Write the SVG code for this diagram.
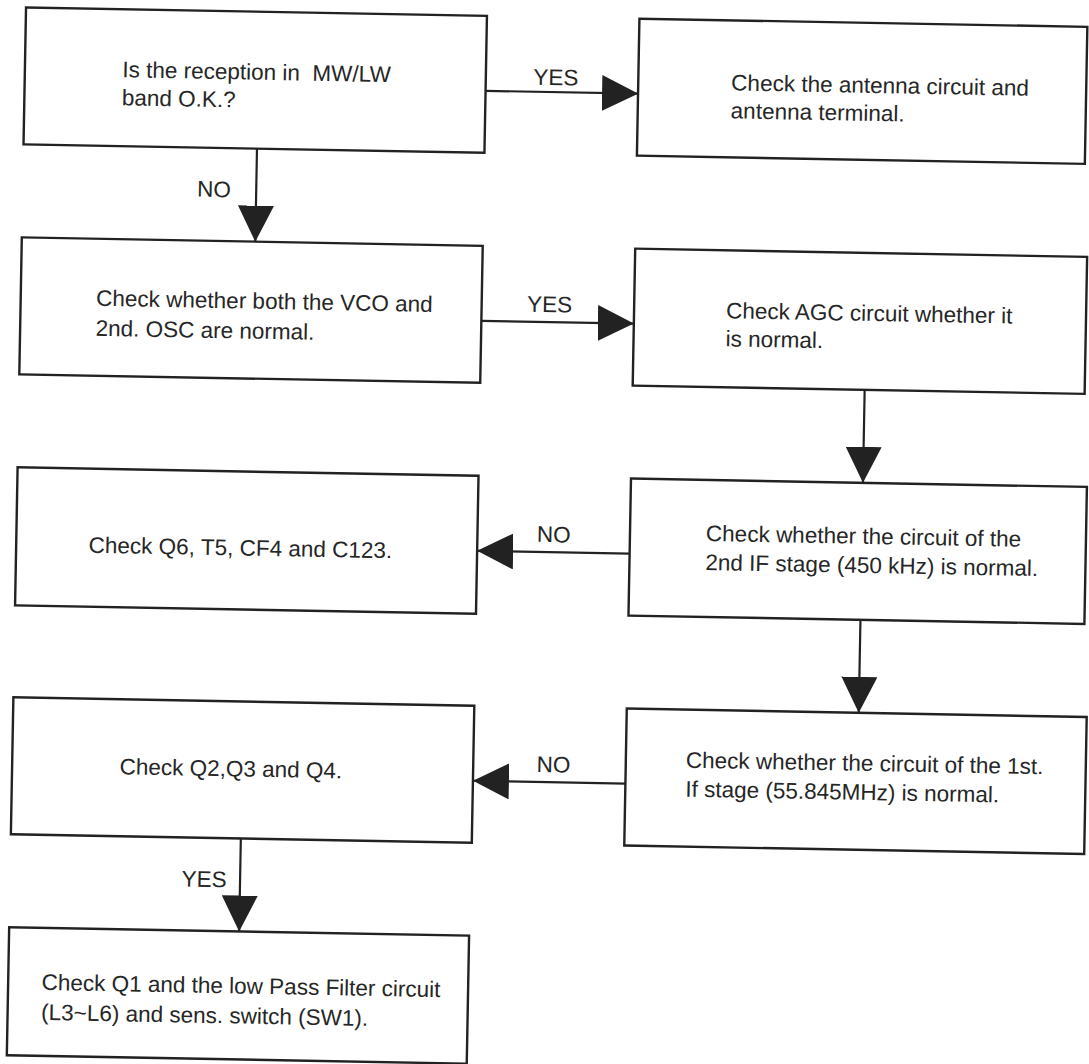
<svg xmlns="http://www.w3.org/2000/svg" width="1089" height="1064" viewBox="0 0 1089 1064">
  <style>
    .box { fill: #ffffff; stroke: #222222; stroke-width: 2.4; }
    .txt { font-family: "Liberation Sans", Arial, sans-serif; font-size: 22.5px; fill: #262626; }
    .conn { fill: none; stroke: #222222; stroke-width: 2.2; marker-end: url(#head); }
  </style>
  <defs>
    <marker id="head" viewBox="0 0 36 36" refX="36" refY="18" markerWidth="36" markerHeight="36" markerUnits="userSpaceOnUse" orient="auto">
      <path d="M0,0 L36,18 L0,36 Z" fill="#222222"/>
    </marker>
  </defs>
  <rect width="1089" height="1064" fill="#ffffff"/>
  <g transform="rotate(1.05 544 532)">
    <g id="connectors">
      <path class="conn" d="M477.5,92 H630"/>
      <path class="conn" d="M250,154 V247"/>
      <path class="conn" d="M477.5,322 H630"/>
      <path class="conn" d="M862,384 V477"/>
      <path class="conn" d="M630,552 H477.5"/>
      <path class="conn" d="M862,614 V707"/>
      <path class="conn" d="M630,782 H477.5"/>
      <path class="conn" d="M246.5,844 V937"/>
      <text class="txt" x="525" y="85">YES</text>
      <text class="txt" x="191" y="203">NO</text>
      <text class="txt" x="523" y="312">YES</text>
      <text class="txt" x="537" y="542">NO</text>
      <text class="txt" x="541" y="772">NO</text>
      <text class="txt" x="188" y="893">YES</text>
    </g>
    <g id="n1">
      <rect class="box" x="16.5" y="17" width="461" height="137"/>
      <text class="txt" x="114" y="85">Is the reception in&#160; MW/LW</text>
      <text class="txt" x="114" y="113">band O.K.?</text>
    </g>
    <g id="n2">
      <rect class="box" x="630" y="17" width="448" height="137"/>
      <text class="txt" x="723" y="87">Check the antenna circuit and</text>
      <text class="txt" x="723" y="115">antenna terminal.</text>
    </g>
    <g id="n3">
      <rect class="box" x="16.5" y="247" width="461" height="137"/>
      <text class="txt" x="92" y="314">Check whether both the VCO and</text>
      <text class="txt" x="92" y="344">2nd. OSC are normal.</text>
    </g>
    <g id="n4">
      <rect class="box" x="630" y="247" width="452" height="137"/>
      <text class="txt" x="722" y="315">Check AGC circuit whether it</text>
      <text class="txt" x="722" y="343">is normal.</text>
    </g>
    <g id="n5">
      <rect class="box" x="16.5" y="477" width="461" height="138"/>
      <text class="txt" x="89" y="561">Check Q6, T5, CF4 and C123.</text>
    </g>
    <g id="n6">
      <rect class="box" x="630" y="477" width="456" height="137"/>
      <text class="txt" x="706" y="538">Check whether the circuit of the</text>
      <text class="txt" x="706" y="567">2nd IF stage (450 kHz) is normal.</text>
    </g>
    <g id="n7">
      <rect class="box" x="630" y="707" width="460" height="137"/>
      <text class="txt" x="690" y="765">Check whether the circuit of the 1st.</text>
      <text class="txt" x="690" y="794">If stage (55.845MHz) is normal.</text>
    </g>
    <g id="n8">
      <rect class="box" x="16.5" y="707" width="461" height="137"/>
      <text class="txt" x="124" y="782">Check Q2,Q3 and Q4.</text>
    </g>
    <g id="n9">
      <rect class="box" x="16.5" y="937" width="460" height="128"/>
      <text class="txt" x="50" y="999">Check Q1 and the low Pass Filter circuit</text>
      <text class="txt" x="50" y="1029">(L3~L6) and sens. switch (SW1).</text>
    </g>
  </g>
</svg>
